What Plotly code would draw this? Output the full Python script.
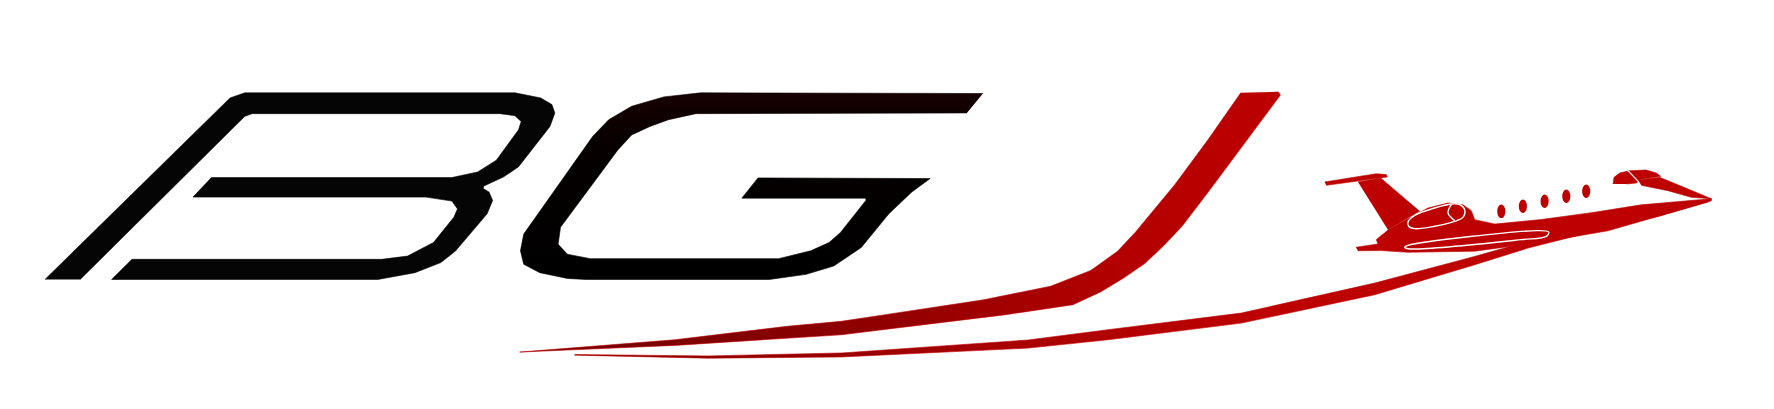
import plotly.graph_objects as go

# Logo outlines, in picture units (x right, y down), frame 1568.5 x 361.6
B_X = [32.7, 196.3, 209.4, 448.2, 471.0, 480.9, 483.5, 479.2, 451.4, 438.3, 420.4, 420.4,
       425.3, 428.5, 423.6, 395.8, 382.7, 359.8, 327.1, 91.6, 109.6, 330.4, 353.3, 376.2,
       394.2, 397.4, 392.5, 369.6, 163.6, 179.9, 392.5, 415.4, 431.8, 451.4, 453.7, 448.2,
       435.1, 215.9, 209.4, 63.8]
B_Y = [240.0, 79.5, 75.0, 75.0, 79.5, 85.4, 92.8, 104.7, 140.4, 149.3, 157.6, 159.7,
       162.7, 170.1, 182.0, 214.7, 225.1, 234.0, 240.0, 240.0, 222.2, 222.2, 219.3, 207.3,
       185.0, 177.6, 170.7, 167.2, 167.2, 149.9, 149.9, 144.9, 134.5, 107.7, 100.3, 95.2,
       93.4, 93.4, 95.8, 240.0]

G_X = [862.0, 612.3, 579.8, 551.4, 531.1, 516.9, 456.0, 453.1, 456.0, 470.2, 494.6, 510.8,
       673.2, 705.7, 730.1, 754.4, 778.8, 799.1, 815.3, 663.1, 648.8, 758.5, 758.5, 736.1,
       726.0, 709.7, 681.3, 514.9, 494.6, 486.4, 488.5, 539.2, 551.4, 567.6, 583.9, 608.2,
       847.8]
G_Y = [75.6, 75.0, 78.6, 86.9, 98.8, 113.6, 199.9, 214.7, 226.6, 234.0, 239.1, 240.0,
       240.0, 235.5, 228.1, 211.8, 182.0, 162.7, 150.8, 150.2, 168.1, 168.1, 170.1, 198.4,
       207.3, 214.7, 221.6, 221.6, 217.7, 208.8, 193.9, 125.5, 112.2, 104.7, 98.8, 93.4,
       92.8]

J_X = [1090.0, 1061.0, 1031.6, 1012.0, 997.0, 981.0, 957.4, 921.8, 862.6, 775.8, 736.8,
       689.0, 589.5, 452.4, 589.5, 736.8, 823.2, 882.4, 941.6, 966.0, 986.0, 1005.0,
       1022.0, 1038.0, 1061.0, 1125.0, 1123.0]
J_Y = [75.0, 116.4, 156.2, 180.0, 198.0, 215.1, 232.0, 246.0, 258.0, 271.1, 277.0,
       281.4, 293.3, 304.2, 298.3, 288.9, 278.5, 271.1, 262.3, 251.0, 239.0, 226.0,
       210.0, 193.0, 163.0, 77.0, 74.0]

SWOOSH_X = [501.0, 619.0, 737.0, 902.0, 972.6, 1090.5, 1208.4, 1296.8, 1344.0, 1400.0,
            1460.0, 1506.0, 1506.0, 1460.0, 1400.0, 1344.0, 1296.8, 1208.4, 1090.5, 972.6,
            902.0, 737.0, 619.0, 501.0]
SWOOSH_Y = [306.4, 307.6, 305.0, 293.5, 284.4, 269.7, 243.2, 219.6, 206.3, 192.0,
            180.0, 168.6, 170.5, 184.0, 198.0, 212.2, 227.0, 253.5, 278.6, 293.3,
            300.7, 308.5, 309.6, 306.9]

STAB_X = [1164.1, 1209.8, 1218.7, 1219.5, 1212.8, 1193.6, 1165.6]
STAB_Y = [153.8, 146.5, 147.3, 149.4, 150.3, 153.2, 156.8]

FIN_X = [1193.6, 1213.6, 1248.1, 1220.1]
FIN_Y = [153.8, 150.3, 179.8, 196.0]

BODY_X = [1220.1, 1237.8, 1255.5, 1273.2, 1286.4, 1293.8, 1296.8, 1314.4, 1355.7, 1399.9,
          1444.1, 1506.0, 1503.0, 1414.6, 1355.7, 1296.8, 1237.8, 1214.2, 1193.6, 1192.1,
          1211.3, 1209.8, 1215.7]
BODY_Y = [196.0, 186.2, 176.8, 172.4, 173.9, 179.2, 187.1, 191.0, 187.0, 181.0,
          174.0, 168.6, 171.5, 197.0, 207.0, 215.0, 216.0, 214.5, 214.6, 211.5,
          208.6, 204.8, 199.8]

COCKPIT_X = [1419.1, 1420.0, 1425.0, 1433.8, 1448.5, 1457.4, 1461.2, 1444.1, 1439.7, 1430.9]
COCKPIT_Y = [155.6, 149.7, 145.9, 143.8, 143.2, 145.9, 148.8, 151.5, 154.7, 155.6]

NOSE_X = [1441.2, 1460.3, 1479.5, 1506.0, 1488.3, 1467.7, 1444.1]
NOSE_Y = [152.1, 149.7, 157.6, 168.6, 167.4, 161.5, 156.8]

WING_X = [1237.8, 1352.7, 1362.2, 1360.1, 1338.0, 1237.8, 1234.9, 1237.8]
WING_Y = [209.8, 196.8, 198.0, 201.9, 204.8, 212.8, 211.3, 209.8]

ENGINE_X = [1237.8, 1243.7, 1261.4, 1276.1, 1283.5, 1287.9, 1286.4, 1279.1, 1261.4, 1243.7,
            1238.4, 1237.8]
ENGINE_Y = [189.2, 183.3, 176.8, 173.3, 173.9, 178.3, 185.1, 188.6, 193.0, 195.1,
            193.0, 189.2]
RING_X = [1276.1, 1273.2, 1279.1]
RING_Y = [173.9, 181.2, 188.0]
SCREEN_X = [1432.3, 1441.8]
SCREEN_Y = [143.8, 153.8]

WINDOW_CX = [1320.3, 1339.4, 1358.6, 1377.8, 1395.4]
WINDOW_CY = [179.8, 175.3, 170.9, 166.5, 162.0]

RED = "#bd0000"
W, H = 1568.5, 361.6

fig = go.Figure()


def blob(x, y, color, gradient=None):
    kw = dict(fillgradient=gradient) if gradient else dict(fillcolor=color)
    fig.add_trace(go.Scatter(x=x, y=y, mode="lines", fill="toself", line=dict(width=0.6, color=color),
                             hoverinfo="skip", showlegend=False, **kw))


def stroke(x, y, width=1.4, shape="linear"):
    fig.add_trace(go.Scatter(x=x, y=y, mode="lines", line=dict(color="white", width=width, shape=shape),
                             hoverinfo="skip", showlegend=False))


blob(B_X, B_Y, "#050505")
blob(G_X, G_Y, "#070000",
     dict(type="vertical", colorscale=[[0, "#000000"], [0.7, "#060000"], [1, "#170000"]]))
blob(J_X, J_Y, RED,
     dict(type="horizontal", colorscale=[[0, "#6e0000"], [0.45, "#8e0000"], [0.8, "#b40000"], [1, RED]]))
blob(SWOOSH_X, SWOOSH_Y, RED,
     dict(type="horizontal", colorscale=[[0, "#7c0000"], [0.3, "#a00000"], [0.6, RED], [1, RED]]))
blob(STAB_X, STAB_Y, RED)
blob(FIN_X, FIN_Y, RED)
blob(BODY_X, BODY_Y, RED)
blob(COCKPIT_X, COCKPIT_Y, RED)
blob(NOSE_X, NOSE_Y, RED)
stroke(WING_X, WING_Y, shape="spline")
stroke(ENGINE_X, ENGINE_Y, shape="spline")
stroke(RING_X, RING_Y, shape="spline")
stroke(SCREEN_X, SCREEN_Y, width=1.2)

for cx, cy in zip(WINDOW_CX, WINDOW_CY):
    fig.add_shape(type="circle", xref="x", yref="y", x0=cx - 3.6, x1=cx + 3.6, y0=cy - 6.0, y1=cy + 6.0,
                  fillcolor=RED, line=dict(width=0))

fig.update_layout(
    width=1774, height=409,
    margin=dict(l=0, r=0, t=0, b=0),
    paper_bgcolor="white", plot_bgcolor="white",
    xaxis=dict(range=[0, W], visible=False, fixedrange=True),
    yaxis=dict(range=[H, 0], visible=False, fixedrange=True),
)
fig.write_html("out.html", config={"displayModeBar": False})
